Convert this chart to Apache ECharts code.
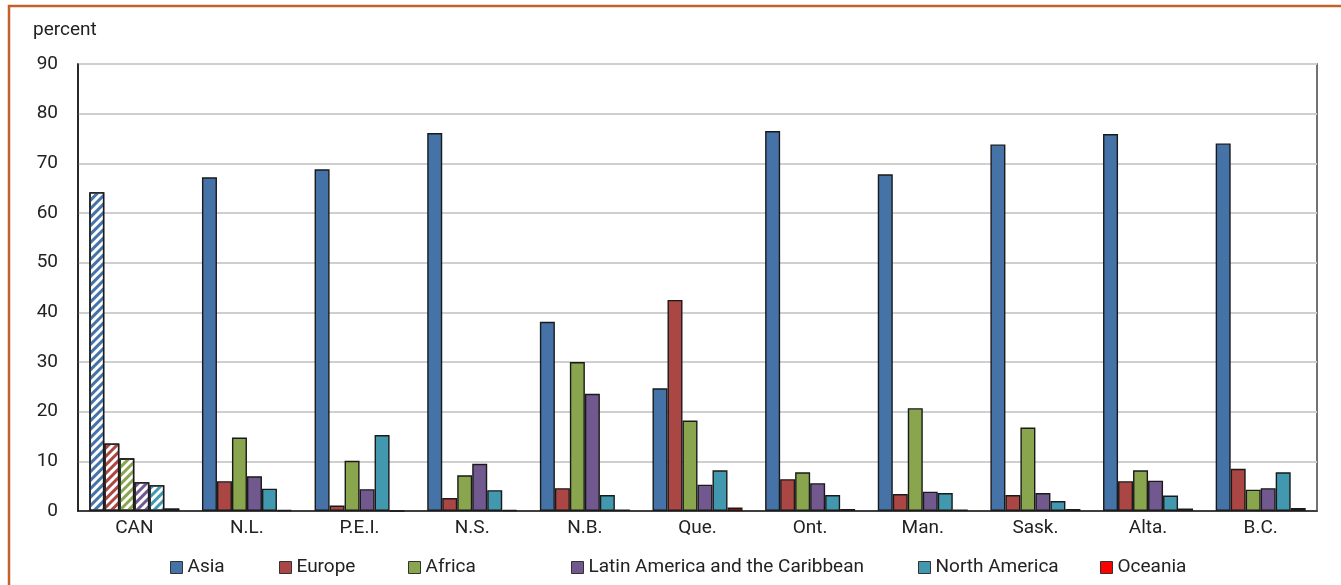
<!DOCTYPE html>
<html>
<head>
<meta charset="utf-8">
<script src="https://cdn.jsdelivr.net/npm/echarts@6/dist/echarts.min.js"></script>
<style>
  html, body { margin: 0; padding: 0; background: #fff; }
  #chart { width: 1341px; height: 585px; }
</style>
</head>
<body>
<div id="chart"></div>
<script>
// Provinces (CAN = national total, drawn hatched)
const categories = ['CAN', 'N.L.', 'P.E.I.', 'N.S.', 'N.B.', 'Que.', 'Ont.', 'Man.', 'Sask.', 'Alta.', 'B.C.'];

// Share of immigrants by region of birth, percent
const asia      = [64.2, 67.2, 68.8, 76.1, 38.1, 24.7, 76.5, 67.8, 73.8, 75.9, 74.0];
const europe    = [13.6,  6.0,  1.1,  2.6,  4.6, 42.5,  6.4,  3.4,  3.2,  6.0,  8.5];
const africa    = [10.6, 14.8, 10.1,  7.2, 30.0, 18.2,  7.8, 20.7, 16.8,  8.2,  4.3];
const latinAm   = [ 5.8,  7.0,  4.4,  9.5, 23.6,  5.3,  5.6,  3.9,  3.6,  6.1,  4.6];
const northAm   = [ 5.2,  4.5, 15.3,  4.2,  3.2,  8.2,  3.2,  3.6,  2.0,  3.1,  7.8];
const oceania   = [ 0.5,  0.2,  0.0,  0.2,  0.3,  0.7,  0.4,  0.3,  0.4,  0.5,  0.6];

const yTicks = [0, 10, 20, 30, 40, 50, 60, 70, 80, 90];

const seriesDefs = [
  { name: 'Asia', data: asia, color: '#4572a7' },
  { name: 'Europe', data: europe, color: '#aa4643' },
  { name: 'Africa', data: africa, color: '#89a54e' },
  { name: 'Latin America and the Caribbean', data: latinAm, color: '#71588f' },
  { name: 'North America', data: northAm, color: '#4198af' },
  { name: 'Oceania', data: oceania, color: '#ff0000' }
];

const legendLeft = [165, 274, 403, 566, 913, 1095];

const FONT = 'Roboto, "Liberation Sans", sans-serif';
const FSIZE = 19;

const chart = echarts.init(document.getElementById('chart'), null, { renderer: 'canvas' });

const series = seriesDefs.map(def => ({
  name: def.name,
  type: 'bar',
  barWidth: 15,
  barGap: '0%',
  itemStyle: { color: def.color, borderColor: '#1a1a1a', borderWidth: 1.4 },
  data: def.data.map((v, i) => i === 0 ? {
    value: v,
    itemStyle: {
      color: '#ffffff',
      decal: {
        symbol: 'rect',
        color: def.color,
        backgroundColor: null,
        dashArrayX: [1, 0],
        dashArrayY: [2.5, 3],
        rotation: -Math.PI / 4,
        symbolSize: 1
      }
    }
  } : v)
}));

const legends = seriesDefs.map((def, i) => ({
  data: [def.name],
  left: legendLeft[i],
  top: 553,
  icon: 'rect',
  itemWidth: 12,
  itemHeight: 12,
  itemGap: 6,
  itemStyle: { borderColor: '#333', borderWidth: 1 },
  textStyle: { fontFamily: FONT, fontSize: FSIZE, color: '#222' },
  selectedMode: false
}));

chart.setOption({
  animation: false,
  backgroundColor: '#ffffff',
  textStyle: { fontFamily: FONT },
  grid: {
    left: 78, right: 24, top: 64, bottom: 74,
    show: true, borderColor: '#444', borderWidth: 1.5
  },
  legend: legends,
  xAxis: {
    type: 'category',
    data: categories,
    axisLine: { lineStyle: { color: '#111', width: 1.5 } },
    axisTick: { show: false },
    axisLabel: { fontFamily: FONT, fontSize: FSIZE, color: '#222', margin: 8 }
  },
  yAxis: {
    type: 'value',
    min: yTicks[0],
    max: yTicks[yTicks.length - 1],
    interval: 10,
    axisLine: { show: true, lineStyle: { color: '#111', width: 1.5 } },
    axisTick: { show: false },
    axisLabel: { fontFamily: FONT, fontSize: FSIZE, color: '#222', margin: 20 },
    splitLine: { lineStyle: { color: '#cfcfcf', width: 2 } }
  },
  graphic: [
    {
      type: 'rect',
      shape: { x: 9, y: 6, width: 1400, height: 700 },
      style: { fill: 'none', stroke: '#c0622a', lineWidth: 2.5 },
      silent: true
    },
    {
      type: 'text',
      left: 33, top: 21,
      style: { text: 'percent', font: FSIZE + 'px ' + FONT, fill: '#222' }
    }
  ],
  series: series
});
</script>
</body>
</html>
